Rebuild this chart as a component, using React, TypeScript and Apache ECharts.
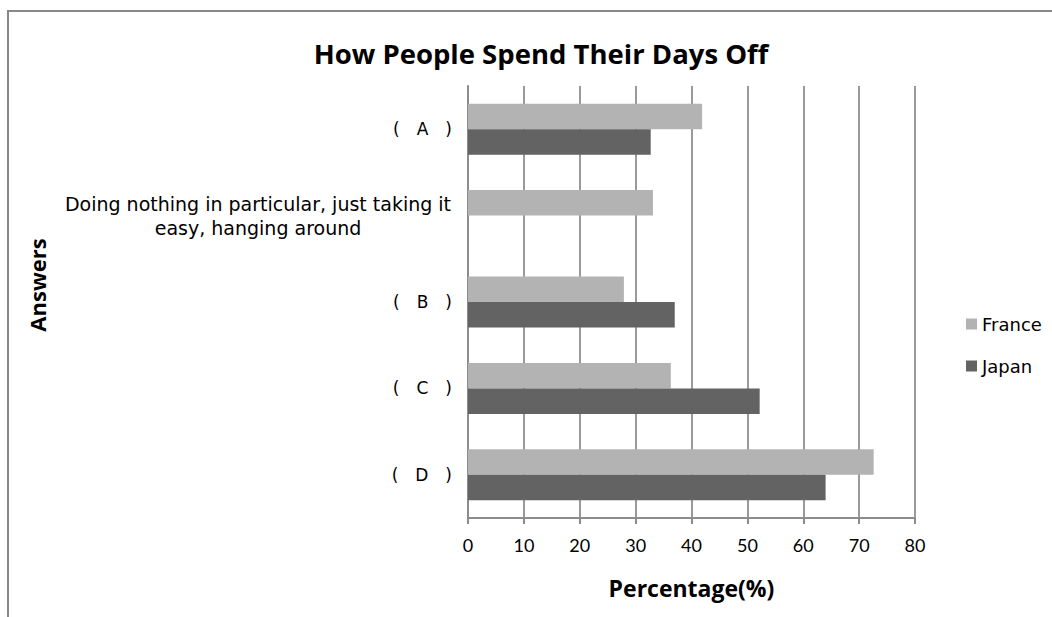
import React, { useEffect, useRef } from "react";
import * as echarts from "echarts";

const categories = [
  "(　A　)",
  "Doing nothing in particular, just taking it\neasy, hanging around",
  "(　B　)",
  "(　C　)",
  "(　D　)",
];
const seriesNames = ["France", "Japan"];
const franceValues: (number | null)[] = [41.9, 33.1, 27.9, 36.3, 72.6];
const japanValues: (number | null)[] = [32.7, null, 37.0, 52.2, 64.0];
const xMin = 0;
const xMax = 80;
const xInterval = 10;

const catFont = "'DejaVu Sans', 'Noto Sans CJK JP', sans-serif";
const latin = "Lato, 'Open Sans', sans-serif";
const bold = "'Open Sans', Lato, sans-serif";

export default function App() {
  const ref = useRef<HTMLDivElement>(null);
  useEffect(() => {
    if (!ref.current) return;
    const chart = echarts.init(ref.current, null, { renderer: "svg" });
    chart.setOption({
      animation: false,
      backgroundColor: "#ffffff",
      title: {
        text: "How People Spend Their Days Off",
        left: 536,
        top: 34,
        textAlign: "center",
        textStyle: { fontFamily: bold, fontWeight: "bold", fontSize: 27.5, color: "#000" },
      },
      graphic: [
        {
          type: "rect",
          shape: { x: 8, y: 11, width: 1200, height: 800 },
          style: { fill: "none", stroke: "#888888", lineWidth: 2 },
          silent: true,
        },
        {
          type: "text",
          x: 37,
          y: 285,
          rotation: Math.PI / 2,
          style: {
            text: "Answers",
            align: "center",
            verticalAlign: "middle",
            fontFamily: bold,
            fontWeight: "bold",
            fontSize: 22,
            fill: "#000",
          },
        },
      ],
      legend: {
        orient: "vertical",
        left: 961,
        top: 310,
        itemWidth: 11,
        itemHeight: 11,
        itemGap: 24,
        icon: "rect",
        textStyle: { fontFamily: "'DejaVu Sans', sans-serif", fontSize: 18, color: "#000" },
        data: seriesNames,
      },
      grid: { left: 468, top: 86, width: 447, height: 432 },
      xAxis: {
        type: "value",
        min: xMin,
        max: xMax,
        interval: xInterval,
        name: "Percentage(%)",
        nameLocation: "middle",
        nameGap: 58,
        nameTextStyle: { fontFamily: bold, fontWeight: "bold", fontSize: 23, color: "#000" },
        axisLine: { show: true, lineStyle: { color: "#8c8c8c", width: 2 } },
        axisTick: { show: true, length: 6, lineStyle: { color: "#8c8c8c", width: 2 } },
        axisLabel: { margin: 18, fontFamily: latin, fontSize: 18, color: "#000" },
        splitLine: { show: true, lineStyle: { color: "#9a9a9a", width: 2 } },
      },
      yAxis: {
        type: "category",
        inverse: true,
        data: categories,
        axisLine: { show: true, lineStyle: { color: "#8c8c8c", width: 2 } },
        axisTick: { show: false },
        axisLabel: {
          margin: 16,
          fontFamily: catFont,
          fontSize: 17,
          color: "#000",
          lineHeight: 24,
          formatter: (v: string) =>
            v.includes("\n")
              ? v
                  .split("\n")
                  .map((s) => `{w|${s}}`)
                  .join("\n")
              : v,
          rich: {
            w: { width: 388, align: "center", fontFamily: catFont, fontSize: 19, lineHeight: 24, color: "#000" },
          },
        },
      },
      series: [
        {
          name: "France",
          type: "bar",
          data: franceValues,
          barGap: "0%",
          barCategoryGap: "41%",
          itemStyle: { color: "#b3b3b3" },
        },
        {
          name: "Japan",
          type: "bar",
          data: japanValues,
          barGap: "0%",
          barCategoryGap: "41%",
          itemStyle: { color: "#636363" },
        },
      ],
    });
    return () => chart.dispose();
  }, []);
  return (
    <div
      ref={ref}
      style={{ position: "absolute", left: 0, top: 0, width: 1052, height: 617 }}
    />
  );
}
